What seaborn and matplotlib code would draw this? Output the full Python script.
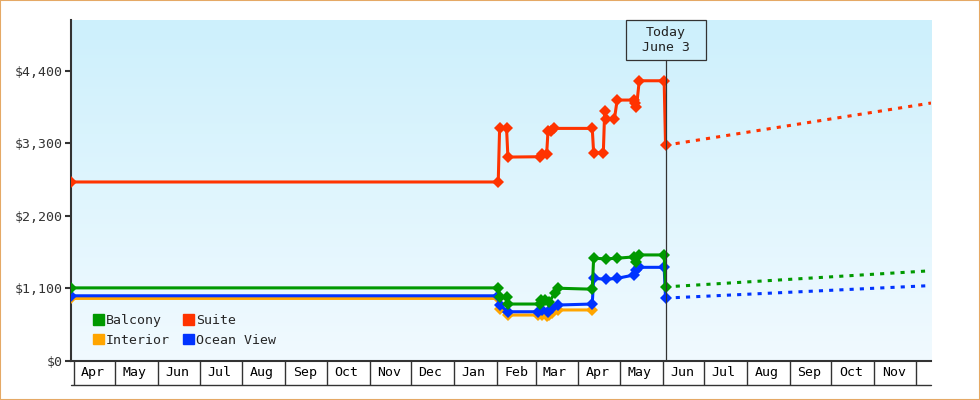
import numpy as np
import pandas as pd
import seaborn as sns
import matplotlib.pyplot as plt
import matplotlib.dates as mdates
from matplotlib.patches import Patch, Rectangle

# price history per cabin type (USD)
balcony_dates = ['2024-03-30', '2025-02-02', '2025-02-03', '2025-02-08', '2025-02-09', '2025-03-04',
                 '2025-03-05', '2025-03-08', '2025-03-11', '2025-03-15', '2025-03-17', '2025-04-11',
                 '2025-04-12', '2025-04-21', '2025-04-29', '2025-05-11', '2025-05-13', '2025-05-15',
                 '2025-06-02', '2025-06-03']
balcony_prices = [1105, 1105, 970, 970, 860, 860,
                  920, 920, 895, 1030, 1100, 1085,
                  1555, 1545, 1555, 1575, 1500, 1605,
                  1605, 1120]

interior_dates = ['2024-03-30', '2025-02-02', '2025-02-03', '2025-02-09', '2025-03-03', '2025-03-06',
                  '2025-03-09', '2025-03-11', '2025-03-13', '2025-03-17', '2025-04-11']
interior_prices = [945, 945, 790, 693, 693, 700,
                   680, 693, 720, 770, 770]

suite_dates = ['2024-03-30', '2025-02-02', '2025-02-03', '2025-02-08', '2025-02-09', '2025-03-04',
               '2025-03-06', '2025-03-09', '2025-03-10', '2025-03-12', '2025-03-14', '2025-04-11',
               '2025-04-12', '2025-04-19', '2025-04-20', '2025-04-21', '2025-04-27', '2025-04-29',
               '2025-05-11', '2025-05-12', '2025-05-13', '2025-05-15', '2025-06-02', '2025-06-03']
suite_prices = [2712, 2712, 3535, 3535, 3090, 3095,
                3130, 3130, 3485, 3485, 3525, 3525,
                3155, 3155, 3793, 3662, 3662, 3955,
                3955, 3905, 3853, 4248, 4248, 3268]

ocean_dates = ['2024-03-30', '2025-02-02', '2025-02-03', '2025-02-09', '2025-03-03', '2025-03-06',
               '2025-03-10', '2025-03-13', '2025-03-17', '2025-04-11', '2025-04-12', '2025-04-21',
               '2025-04-29', '2025-05-11', '2025-05-13', '2025-05-15', '2025-06-02', '2025-06-03']
ocean_prices = [985, 985, 845, 743, 743, 770,
                743, 795, 845, 860, 1250, 1235,
                1250, 1300, 1376, 1417, 1417, 947]

# projected prices (today -> end of axis)
proj_dates = ['2025-06-03', '2025-12-12']
balcony_proj = [1120, 1365]
suite_proj = [3270, 3910]
ocean_proj = [950, 1140]

today = '2025-06-03'
y_ticks = [0, 1100, 2200, 3300, 4400]
y_labels = ['$0', '$1,100', '$2,200', '$3,300', '$4,400']
month_labels = ['Apr', 'May', 'Jun', 'Jul', 'Aug', 'Sep', 'Oct', 'Nov', 'Dec', 'Jan',
                'Feb', 'Mar', 'Apr', 'May', 'Jun', 'Jul', 'Aug', 'Sep', 'Oct', 'Nov']

colors = {'Balcony': '#009900', 'Interior': '#ffa500', 'Suite': '#ff3300', 'Ocean View': '#0033ff'}

hist = pd.concat([
    pd.DataFrame({'date': pd.to_datetime(interior_dates), 'price': interior_prices, 'cabin': 'Interior'}),
    pd.DataFrame({'date': pd.to_datetime(ocean_dates), 'price': ocean_prices, 'cabin': 'Ocean View'}),
    pd.DataFrame({'date': pd.to_datetime(balcony_dates), 'price': balcony_prices, 'cabin': 'Balcony'}),
    pd.DataFrame({'date': pd.to_datetime(suite_dates), 'price': suite_prices, 'cabin': 'Suite'}),
])
proj = pd.concat([
    pd.DataFrame({'date': pd.to_datetime(proj_dates), 'price': ocean_proj, 'cabin': 'Ocean View'}),
    pd.DataFrame({'date': pd.to_datetime(proj_dates), 'price': balcony_proj, 'cabin': 'Balcony'}),
    pd.DataFrame({'date': pd.to_datetime(proj_dates), 'price': suite_proj, 'cabin': 'Suite'}),
])

sns.set_style('white')
plt.rcParams['font.family'] = ['DejaVu Sans Mono']

fig = plt.figure(figsize=(9.8, 4.0), dpi=100)
ax = fig.add_axes([71 / 980, 39.3 / 400, 860 / 980, 340.7 / 400])

xmin = pd.Timestamp('2024-03-30')
xmax = pd.Timestamp('2025-12-12')

# background gradient
top = np.array([205, 240, 252]) / 255
bot = np.array([241, 250, 255]) / 255
t = np.linspace(0, 1, 256)[:, None]
grad = (top * (1 - t) + bot * t)[:, None, :]
ax.imshow(grad, extent=[0, 1, 0, 1], transform=ax.transAxes, aspect='auto', zorder=0)

for name in ['Interior', 'Ocean View', 'Balcony', 'Suite']:
    sub = hist[hist.cabin == name]
    sns.lineplot(data=sub, x='date', y='price', color=colors[name], linewidth=2.2,
                 marker='D', markersize=6.5, markeredgewidth=0, ax=ax, legend=False,
                 estimator=None, sort=False, zorder=3)
    psub = proj[proj.cabin == name]
    if len(psub):
        sns.lineplot(data=psub, x='date', y='price', color=colors[name], linewidth=2.2,
                     linestyle=(0, (1.35, 2.0)), ax=ax, legend=False, estimator=None, zorder=2)

ax.set_xlim(xmin, xmax)
ax.set_ylim(0, 5170)
ax.set_xlabel('')
ax.set_ylabel('')

# y axis
ax.set_yticks(y_ticks)
ax.set_yticklabels(y_labels)
ax.tick_params(axis='y', direction='out', length=4, width=1.5, color='#333333',
               labelsize=9.5, labelcolor='#333333', pad=2, left=True)

# x axis: month boxes
month_starts = pd.date_range('2024-04-01', '2025-12-01', freq='MS')
mid_months = pd.date_range('2024-04-01', '2025-11-01', freq='MS') + pd.Timedelta(days=14)
ax.set_xticks(month_starts)
ax.set_xticklabels([])
ax.set_xticks(mid_months, minor=True)
ax.set_xticklabels(month_labels, minor=True)
ax.tick_params(axis='x', which='major', direction='out', length=17.5, width=1, color='#333333', bottom=True)
ax.tick_params(axis='x', which='minor', length=0, labelsize=9.5, labelcolor='black', pad=4)
ax.plot([0, 1], [-24.3 / 340.7, -24.3 / 340.7], transform=ax.transAxes, color='#333333',
        linewidth=1, clip_on=False)

sns.despine(ax=ax, top=True, right=True)
for side in ['left', 'bottom']:
    ax.spines[side].set_color('#333333')
    ax.spines[side].set_linewidth(1.5)

# today marker
tx = (mdates.date2num(pd.Timestamp(today)) - mdates.date2num(xmin)) / \
     (mdates.date2num(xmax) - mdates.date2num(xmin))
box_w = 80 / 860
box_h = 40 / 340.7
ax.add_patch(Rectangle((tx - box_w / 2, 1 - box_h), box_w, box_h, transform=ax.transAxes,
                       facecolor='none', edgecolor='#333333', linewidth=0.9, zorder=5, clip_on=False))
ax.text(tx, 1 - box_h / 2, 'Today\nJune 3', transform=ax.transAxes, ha='center', va='center',
        fontsize=9.5, color='#222222', linespacing=1.25, zorder=6)
ax.axvline(pd.Timestamp(today), ymin=0, ymax=1 - box_h, color='#333333', linewidth=0.9, zorder=4)

# legend
handles = [Patch(facecolor=colors[n], edgecolor=colors[n], label=n)
           for n in ['Balcony', 'Interior', 'Suite', 'Ocean View']]
ax.legend(handles=handles, ncol=2, loc='lower left', bbox_to_anchor=(0.0256, 0.041),
          frameon=False, fontsize=9.5, borderpad=0, borderaxespad=0, handlelength=0.83,
          handleheight=0.83, handletextpad=0.15, columnspacing=1.0, labelspacing=0.5)

# orange frame around the image
fig.patches.append(Rectangle((0, 0), 1, 1, transform=fig.transFigure, fill=False,
                             edgecolor='#e5a965', linewidth=1.5))

fig.savefig('out.png', dpi=100)
